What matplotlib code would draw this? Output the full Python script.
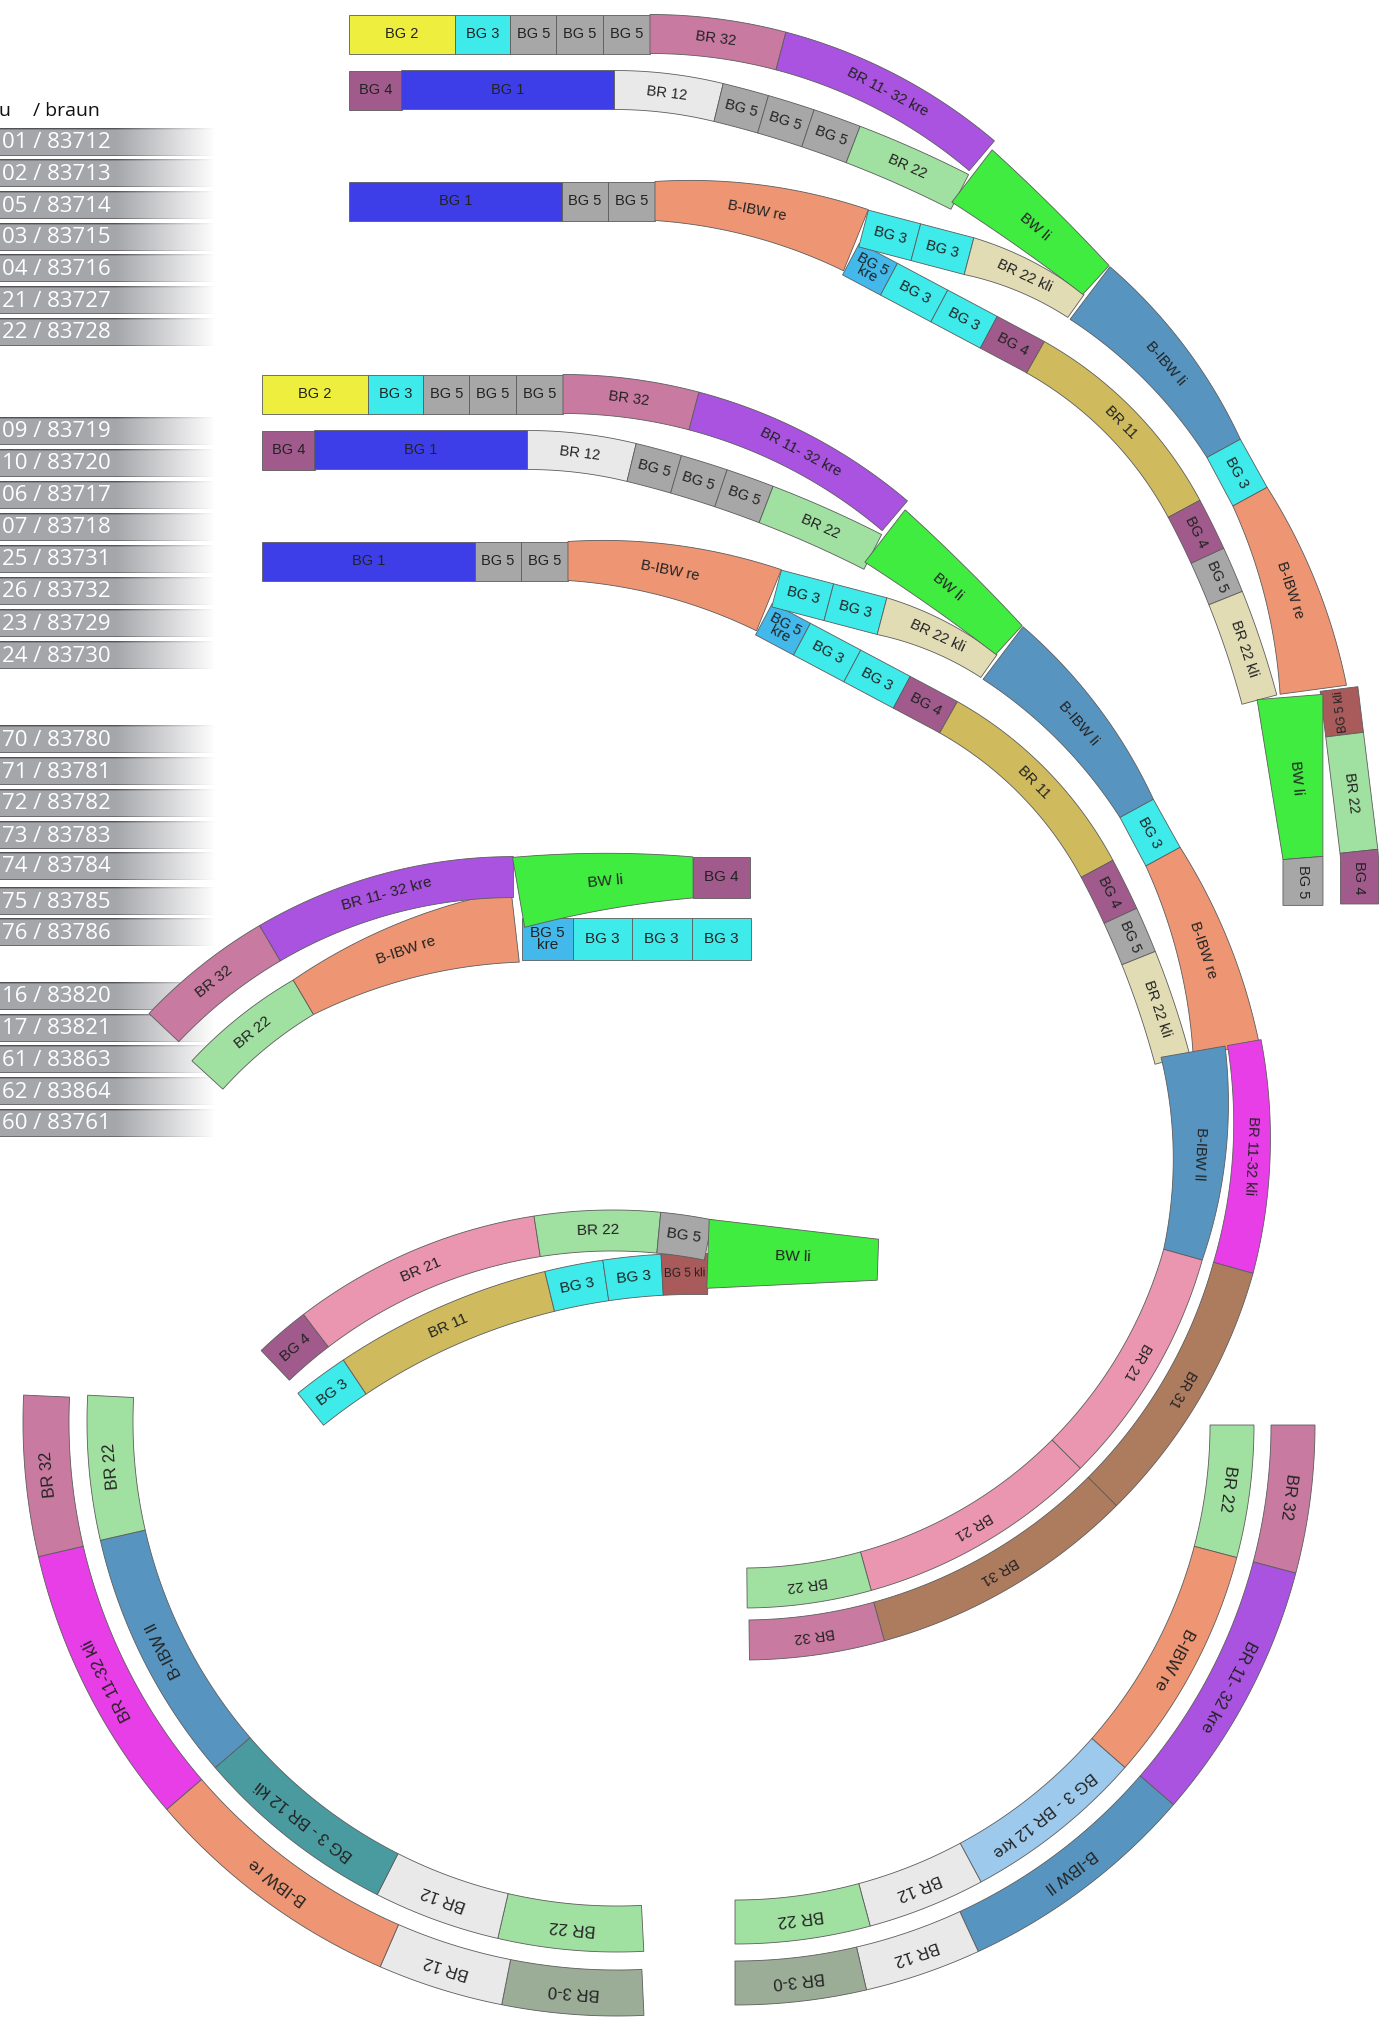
import numpy as np
import matplotlib
matplotlib.use('Agg')
import matplotlib.pyplot as plt
from matplotlib.patches import Polygon

# ---------------- data ----------------
COLORS = {
    'BG 1': '#3e3ee9', 'BG 2': '#eeee3e', 'BG 3': '#3feaea', 'BG 4': '#a05b8c',
    'BG 5': '#a7a7a7', 'BG 5\nkre': '#42b9ea', 'BG 5 kli': '#a95a5a',
    'BR 11': '#cfbb5d', 'BR 12': '#e9e9e9', 'BR 21': '#eb96b0', 'BR 22': '#a0e0a0',
    'BR 22 kli': '#e2dcb5', 'BR 31': '#ad7c5f', 'BR 32': '#c87aa0', 'BR 3-0': '#9bac97',
    'BR 11- 32 kre': '#a953e0', 'BR 11-32 kli': '#e83ee8', 'BW li': '#41ec41',
    'B-IBW li': '#5795c0', 'B-IBW ll': '#5795c0', 'B-IBW re': '#ee9674',
    'BG 3 - BR 12 kli': '#4a9ba0', 'BG 3 - BR 12 kre': '#9dcaec',
}

# table on the left
TABLE_HEAD = ['u', '/ braun']
GROUP1 = ['01 / 83712', '02 / 83713', '05 / 83714', '03 / 83715', '04 / 83716',
          '21 / 83727', '22 / 83728']
GROUP2 = ['09 / 83719', '10 / 83720', '06 / 83717', '07 / 83718', '25 / 83731',
          '26 / 83732', '23 / 83729', '24 / 83730']
GROUP3 = ['70 / 83780', '71 / 83781', '72 / 83782', '73 / 83783', '74 / 83784',
          '75 / 83785', '76 / 83786']
GROUP4 = ['16 / 83820', '17 / 83821', '61 / 83863', '62 / 83864', '60 / 83761']

# strands: labels and segment lengths (px along the strand)
A1_LAB = ['BG 2', 'BG 3', 'BG 5', 'BG 5', 'BG 5', 'BR 32', 'BR 11- 32 kre']
A1_LEN = [106, 55.5, 46, 46.5, 47, 132.5, 228.4]
A2_LAB = ['BG 4', 'BG 1', 'BR 12', 'BG 5', 'BG 5', 'BG 5', 'BR 22']
A2_LEN = [52.6, 212.9, 105, 46, 47, 48, 116.7]
A3_LAB = ['BG 1', 'BG 5', 'BG 5', 'B-IBW re']
A3_LEN = [213, 46, 47, 206]
A3A_LAB = ['BG 3', 'BG 3', 'BR 22 kli']
A3A_LEN = [54, 55, 118.6]
A3B_LAB = ['BG 5\nkre', 'BG 3', 'BG 3', 'BG 4', 'BR 11', 'BG 4', 'BG 5', 'BR 22 kli']
A3B_LEN = [43, 57, 56, 53, 215, 52.5, 46, 107]
AG_LAB = ['BW li']
AG_LEN = [162]
AT_LAB = ['B-IBW li', 'BG 3', 'B-IBW re']
AT_LEN = [206.5, 55, 204.3]
AR_LAB = ['BG 5 kli', 'BR 22', 'BG 4']
AR_LEN = [46, 117.5, 52.7]
AV_LAB = ['BW li', 'BG 5']
AV_LEN = [161.5, 47.4]

BI_LAB = ['B-IBW ll', 'BR 21', 'BR 21', 'BR 22']
BI_LEN = [205, 233.7, 234.5, 120.4]
BO_LAB = ['BR 11-32 kli', 'BR 31', 'BR 31', 'BR 32']
BO_LEN = [227.4, 262.1, 261.2, 131.5]

C1_LAB = ['BR 32', 'BR 11- 32 kre']
C1_LEN = [136, 255.2]
C2_LAB = ['BR 22', 'B-IBW re']
C2_LEN = [124, 225]
CG_LAB = ['BW li', 'BG 4']
CG_LEN = [175.3, 57]
CR_LAB = ['BG 5\nkre', 'BG 3', 'BG 3', 'BG 3']
CR_LEN = [51.1, 59.1, 60, 59.2]

D1_LAB = ['BG 4', 'BR 21', 'BR 22', 'BG 5']
D1_LEN = [53.5, 243, 122, 50.1]
D2_LAB = ['BG 3', 'BR 11', 'BG 3', 'BG 3', 'BG 5 kli']
D2_LEN = [54.6, 214, 57.2, 56.7, 45.9]
DG_LAB = ['BW li']
DG_LEN = [170]

E1_LAB = ['BR 22', 'BR 12', 'BG 3 - BR 12 kli', 'B-IBW ll', 'BR 22']
E1_LEN = [140.7, 123, 198.2, 246, 139.8]
E2_LAB = ['BR 3-0', 'BR 12', 'B-IBW re', 'BR 11-32 kli', 'BR 32']
E2_LEN = [137.5, 122.6, 257.1, 275.1, 156.5]

F1_LAB = ['BR 22', 'B-IBW re', 'BG 3 - BR 12 kre', 'BR 12', 'BR 22']
F1_LEN = [128.4, 229.9, 177, 114.5, 131]
F2_LAB = ['BR 32', 'BR 11- 32 kre', 'B-IBW ll', 'BR 12', 'BR 3-0']
F2_LEN = [144.1, 254.2, 236.7, 113.9, 127.6]

# ---------------- layout ----------------
W, H = 1398, 2022
LABEL_FONT = ['Liberation Sans', 'DejaVu Sans']

fig = plt.figure(figsize=(W / 100, H / 100), dpi=100)
ax = fig.add_axes([0, 0, 1, 1])
ax.axis('off')


def build(start, hd, pieces, step=1.0):
    x, y = start
    th = np.radians(hd)
    pts = [(x, y, th)]
    for p in pieces:
        if p[0] == 'S':
            L = p[1]
            n = max(int(L / step), 1)
            for i in range(1, n + 1):
                d = L * i / n
                pts.append((x + d * np.cos(th), y + d * np.sin(th), th))
            x += L * np.cos(th)
            y += L * np.sin(th)
        else:
            R, sw = p[1], np.radians(p[2])
            sg = 1 if sw >= 0 else -1
            cx = x - sg * R * np.sin(th)
            cy = y + sg * R * np.cos(th)
            n = max(int(R * abs(sw) / step), 1)
            for i in range(1, n + 1):
                t = th + sw * i / n
                pts.append((cx + sg * R * np.sin(t), cy - sg * R * np.cos(t), t))
            th = th + sw
            x = cx + sg * R * np.sin(th)
            y = cy - sg * R * np.cos(th)
    a = np.array(pts)
    s = np.concatenate([[0], np.cumsum(np.hypot(np.diff(a[:, 0]), np.diff(a[:, 1])))])
    return a[:, 0], a[:, 1], a[:, 2], s


def circ(cx, cy, R, a0, sweep):
    a = np.radians(a0)
    hd = a0 + (90 if sweep >= 0 else -90)
    return (cx + R * np.cos(a), cy + R * np.sin(a)), hd, [('A', R, sweep)]


def band(geo, labels, lengths, widths, off=(0, 0), fs=10.5, flips=()):
    X, Y, T, S = build(*geo)
    X = X + off[0]
    Y = Y + off[1]
    L = np.asarray(lengths, float)
    L = L * S[-1] / L.sum()
    bnd = np.concatenate([[0], np.cumsum(L)])
    if np.isscalar(widths):
        widths = [widths] * (len(L) + 1)
    for i, lab in enumerate(labels):
        ss = np.linspace(bnd[i], bnd[i + 1], max(int(L[i] / 2), 2) + 1)
        x = np.interp(ss, S, X)
        y = np.interp(ss, S, Y)
        t = np.interp(ss, S, T)
        w = np.linspace(widths[i], widths[i + 1], len(ss)) / 2
        nx, ny = -np.sin(t), np.cos(t)
        px = np.concatenate([x + w * nx, (x - w * nx)[::-1]])
        py = np.concatenate([y + w * ny, (y - w * ny)[::-1]])
        ax.add_patch(Polygon(np.c_[px, py], closed=True, fc=COLORS[lab],
                             ec='#5c5c5c', lw=0.6, zorder=1))
        sm = (bnd[i] + bnd[i + 1]) / 2
        xm, ym, tm = np.interp(sm, S, X), np.interp(sm, S, Y), np.interp(sm, S, T)
        rot = -np.degrees(tm) + (180 if i in flips else 0)
        # shrink labels that would not fit in a short box
        longest = max(len(s) for s in lab.split('\n'))
        est = 0.62 * fs * longest
        f = fs if est < 0.92 * L[i] else max(fs * 0.92 * L[i] / est, 8)
        ax.text(xm, ym, lab, rotation=rot, rotation_mode='anchor', ha='center',
                va='center', fontsize=f, family=LABEL_FONT, color='#222222',
                linespacing=0.8, zorder=3)


# ---- left table ----
def table_row(yc, label):
    h, w = 28, 215
    top = yc - 14
    xs = np.arange(w)
    f = np.clip((xs - 115) / 100.0, 0, 1)[:, None]
    rows = np.tile([0.647, 0.651, 0.667], (h, 1))
    rows[0] = [0.32, 0.32, 0.34]
    rows[1] = [0.52, 0.52, 0.54]
    rows[-1] = [0.42, 0.42, 0.44]
    img = np.stack([rows[i][None, :] * (1 - f) + f for i in range(h)])
    ax.imshow(img, extent=(0, w, top + h, top), interpolation='bilinear',
              aspect='auto', zorder=0.5)
    ax.text(2, yc + 1, label, color='white', fontsize=16,
            family=['Open Sans', 'DejaVu Sans'], va='center', ha='left', zorder=3)


ROWS_Y = [[141.7 + 31.7 * k for k in range(len(GROUP1))],
          [430.7 + 32.05 * k for k in range(len(GROUP2))],
          [739.3, 771, 802.7, 835, 865.7, 901, 932.3],
          [996 + 31.7 * k for k in range(len(GROUP4))]]
for grp, ys in zip([GROUP1, GROUP2, GROUP3, GROUP4], ROWS_Y):
    for lab, yc in zip(grp, ys):
        table_row(yc, lab)
ax.text(-1, 111, TABLE_HEAD[0], fontsize=14, family=['Open Sans', 'DejaVu Sans'],
        va='center', ha='left', color='#111111')
ax.text(33, 111, TABLE_HEAD[1], fontsize=14, family=['Open Sans', 'DejaVu Sans'],
        va='center', ha='left', color='#111111')

# ---- upper two switch groups (second one is a shifted copy) ----
GEO_A1 = ((349, 34), 0, [('S', 301), ('A', 513, 40.3)])
GEO_A2 = ((349, 90), 0, [('S', 265.5), ('A', 440, 13.7), ('A', 1110, 13.3)])
GEO_A3 = ((349, 201), 0, [('S', 306), ('A', 534, 22.1)])
GEO_A3A = ((863.6, 228.5), 14.7, [('S', 110), ('A', 324, 20.8)])
GEO_A3B = ((851, 259), 28, [('S', 200), ('A', 380, 34), ('A', 900, 13)])
GEO_AG = ((972, 176), 37.6, [('A', 1932, 4.8)])
GEO_AT = ((1090, 293), 37.2, [('A', 489, 24.2), ('S', 55), ('A', 560, 20.9)])
GEO_AR = ((1339, 689), 83, [('S', 162), ('A', 100, 7), ('S', 42)])
GEO_AV = ((1290, 697), 85.4, [('S', 161.5), ('A', 5, 4.6), ('S', 47)])

for off in [(0, 0), (-87, 360)]:
    band(GEO_A3B, A3B_LAB, A3B_LEN, 36, off)
    band(GEO_A3A, A3A_LAB, A3A_LEN, [38, 38, 38, 28], off)
    band(GEO_A3, A3_LAB, A3_LEN, [39, 39, 39, 39, 66], off)
    band(GEO_A2, A2_LAB, A2_LEN, 39, off)
    band(GEO_A1, A1_LAB, A1_LEN, 39, off)
    band(GEO_AG, AG_LAB, AG_LEN, [66, 39], off)
    band(GEO_AT, AT_LAB, AT_LEN, [66, 38, 39, 67], off)

band(GEO_AR, AR_LAB, AR_LEN, 38, flips=(0,))
band(GEO_AV, AV_LAB, AV_LEN, [66, 40, 40])

band(circ(743, 1131, 509, -10, 99.3), BO_LAB, BO_LEN, [34, 41, 40, 40, 40])
band(circ(743, 1131, 457, -10, 99.5), BI_LAB, BI_LEN, [65, 40, 40, 40, 40])

# ---- left middle group ----
band(((521.6, 939), 0, [('S', 229.4)]), CR_LAB, CR_LEN, 42, fs=11)
band(((207.4, 1075), -47.5, [('A', 418, 17), ('A', 537, 24)]), C2_LAB, C2_LEN,
     [42, 40, 72], fs=11)
band(((163.9, 1027.6), -46.6, [('A', 481, 46.6)]), C1_LAB, C1_LEN, 41, fs=11)
band(((518.6, 892.4), -9.8, [('A', 1025, 9.8), ('S', 57)]), CG_LAB, CG_LEN,
     [71, 41, 41], fs=11)

# ---- centre group ----
band(circ(695.2, 1887.5, 613.6, -128.8, 40), D2_LAB, D2_LEN, 41, fs=11)
band(circ(612.5, 1719.5, 489, -133.6, 54.9), D1_LAB, D1_LEN, 41, fs=11)
band(((708, 1253.8), 2, [('S', 170)]), DG_LAB, DG_LEN, [69, 41], fs=11)

# ---- lower arcs ----
band(circ(617, 1422, 507, 87.1, 95.8), E1_LAB, E1_LEN, 46, fs=12)
band(circ(617, 1422, 571, 87.4, 95.2), E2_LAB, E2_LEN, 46, fs=12)
band(circ(735, 1425, 497, 0, 90), F1_LAB, F1_LEN, 44, fs=12)
band(circ(735, 1425, 558, 0, 90), F2_LAB, F2_LEN, 44, fs=12)

ax.set_xlim(0, W)
ax.set_ylim(H, 0)
fig.savefig('out.png', dpi=100, facecolor='white')
